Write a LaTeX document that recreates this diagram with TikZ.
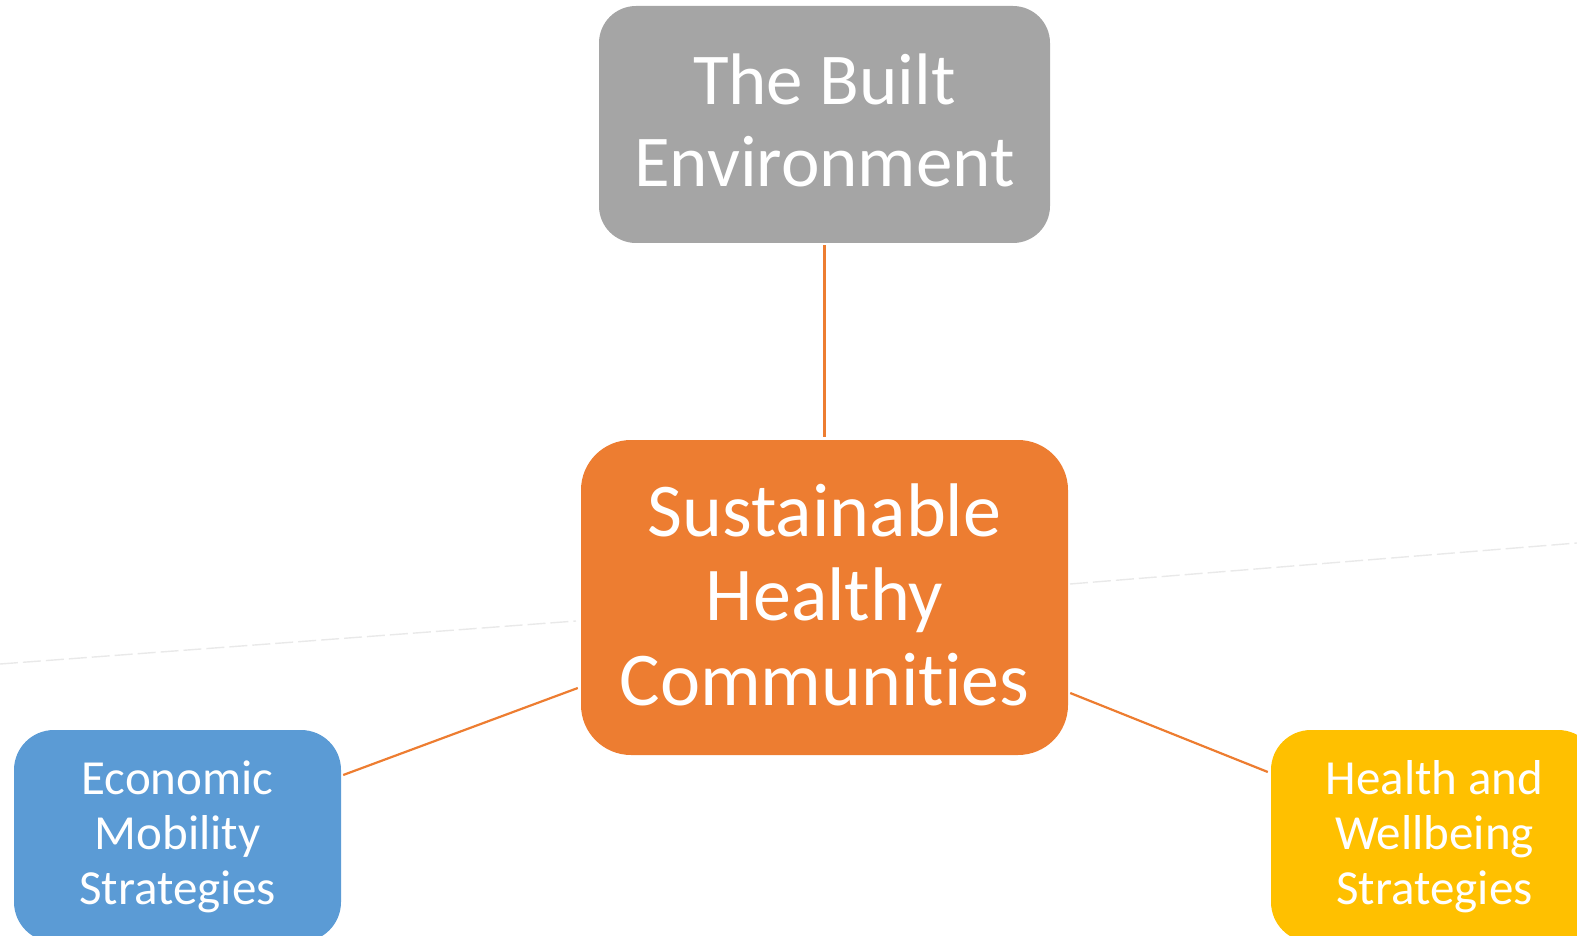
\documentclass[tikz,border=0pt]{standalone}
\usepackage{fontspec}
\setmainfont{Carlito}[Ligatures={NoCommon}]
\usetikzlibrary{calc}
\definecolor{boxgray}{HTML}{A5A5A5}
\definecolor{boxorange}{HTML}{ED7D31}
\definecolor{boxblue}{HTML}{5B9BD5}
\definecolor{boxyellow}{HTML}{FFC000}
\definecolor{faintline}{HTML}{E9E9E9}
\begin{document}
\begin{tikzpicture}[x=1pt,y=-1pt,
  boxshape/.style={rectangle, inner sep=0pt, draw=none},
  linetxt/.style={anchor=base, inner sep=0pt, text=white},
  conn/.style={draw=boxorange, line width=2.2pt},
  faint/.style={draw=faintline, line width=1.4pt, dash pattern=on 18pt off 5pt}]
\useasboundingbox (0,0) rectangle (1577,936);
\clip (0,0) rectangle (1577,936);

% faint background lines
\coordinate (fl1) at (0,664);
\coordinate (fl2) at (576,621);
\coordinate (fr1) at (1070,584);
\coordinate (fr2) at (1577,543);
\draw[faint] (fl1) -- (fl2);
\draw[faint] (fr1) -- (fr2);

% boxes
\node[boxshape, fill=boxgray, rounded corners=37pt, minimum width=451pt, minimum height=237pt] (built) at (824.5,124.5) {};
\node[boxshape, fill=boxorange, rounded corners=50pt, minimum width=487pt, minimum height=315pt] (core) at (824.5,597.5) {};
\node[boxshape, fill=boxblue, rounded corners=40pt, minimum width=327pt, minimum height=212pt] (econ) at (177.5,836) {};
\node[boxshape, fill=boxyellow, rounded corners=40pt, minimum width=327pt, minimum height=212pt] (health) at (1434.5,836) {};

% texts
\begin{scope}[font=\fontsize{73}{82}\selectfont]
\node[linetxt] (b1) at ($(built.center)+(0,-19.5)$) {The Built};
\node[linetxt] (b2) at ($(built.center)+(0,62.5)$) {Environment};
\end{scope}
\begin{scope}[font=\fontsize{76}{85}\selectfont]
\node[linetxt] (c1) at ($(core.center)+(0,-61.5)$) {Sustainable};
\node[linetxt] (c2) at ($(core.center)+(0,22.5)$) {Healthy};
\node[linetxt] (c3) at ($(core.center)+(0,107.5)$) {Communities};
\end{scope}
\begin{scope}[font=\fontsize{49}{55}\selectfont]
\node[linetxt] (e1) at ($(econ.center)+(0,-42)$) {Economic};
\node[linetxt] (e2) at ($(econ.center)+(0,13.5)$) {Mobility};
\node[linetxt] (e3) at ($(econ.center)+(0,68.5)$) {Strategies};
\node[linetxt] (h1) at ($(health.center)+(0,-42)$) {Health and};
\node[linetxt] (h2) at ($(health.center)+(0,13.5)$) {Wellbeing};
\node[linetxt] (h3) at ($(health.center)+(0,68.5)$) {Strategies};
\end{scope}

% connectors
\draw[conn] ($(built.south)+(0,2)$) -- ($(core.north)+(0,-3)$);
\draw[conn] ($(econ.east)+(2,-61)$) -- ($(core.west)+(-3,90.5)$);
\draw[conn] ($(core.east)+(2,95.5)$) -- ($(health.west)+(-3,-64)$);
\end{tikzpicture}
\end{document}
